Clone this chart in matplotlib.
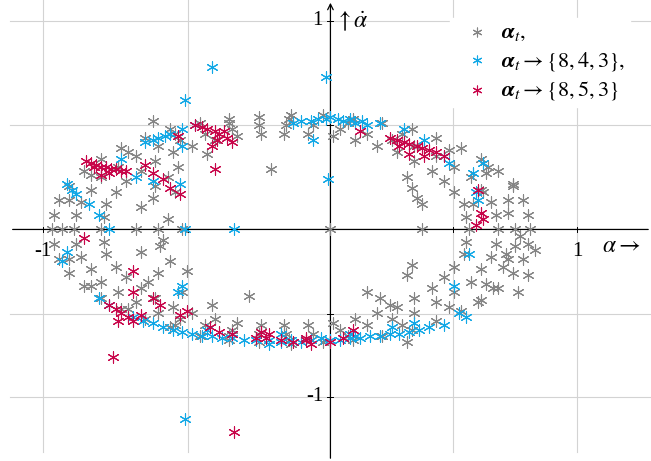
import matplotlib.pyplot as plt

plt.rcParams['font.family'] = ['Liberation Serif', 'DejaVu Serif']
plt.rcParams['mathtext.fontset'] = 'stix'

# gray: alpha_t (several orbits)
ring1_x = [0.81, 0.80, 0.78, 0.74, 0.68, 0.61, 0.53, 0.43, 0.33, 0.21, 0.09, -0.03, -0.16, -0.29, -0.41, -0.53,
           -0.65, -0.75, -0.85, -0.93, -1.00, -1.06, -1.10, -1.12, -1.13,
           -1.12, -1.10, -1.06, -1.00, -0.93, -0.85, -0.75, -0.65, -0.53, -0.41, -0.29, -0.16, -0.03, 0.09,
           0.21, 0.33, 0.43, 0.53, 0.61, 0.68, 0.74, 0.78, 0.80]
ring1_y = [0.00, 0.07, 0.14, 0.21, 0.28, 0.34, 0.39, 0.44, 0.48, 0.51, 0.53, 0.55, 0.55, 0.54, 0.53, 0.51,
           0.48, 0.44, 0.39, 0.34, 0.28, 0.21, 0.14, 0.07, 0.00,
           -0.07, -0.14, -0.21, -0.27, -0.33, -0.38, -0.43, -0.47, -0.51, -0.53, -0.54, -0.55, -0.54, -0.53,
           -0.51, -0.48, -0.44, -0.39, -0.34, -0.28, -0.21, -0.14, -0.07]
ring2_x = [0.75, 0.72, 0.63, 0.48, 0.29, 0.07, -0.17, -0.41, -0.63, -0.82, -0.97, -1.06, -1.09,
           -1.06, -0.97, -0.82, -0.63, -0.41, -0.17, 0.07, 0.29, 0.48, 0.63, 0.72]
ring2_y = [0.00, 0.14, 0.27, 0.38, 0.46, 0.51, 0.53, 0.51, 0.46, 0.37, 0.26, 0.14, 0.00,
           -0.14, -0.27, -0.38, -0.46, -0.51, -0.53, -0.51, -0.46, -0.37, -0.26, -0.14]
ring3_x = [0.68, 0.67, 0.65, 0.61, 0.57, 0.50, 0.43, 0.34, 0.25, 0.15, 0.04, -0.07, -0.18, -0.29, -0.40, -0.51,
           -0.61, -0.70, -0.79, -0.86, -0.93, -0.97, -1.01, -1.03, -1.04,
           -1.03, -1.01, -0.97, -0.93, -0.86, -0.79, -0.70, -0.61, -0.51, -0.40, -0.29, -0.18, -0.07, 0.04,
           0.15, 0.25, 0.34, 0.43, 0.50, 0.57, 0.61, 0.65, 0.67]
ring3_y = [0.00, 0.07, 0.13, 0.19, 0.25, 0.30, 0.35, 0.40, 0.43, 0.46, 0.48, 0.50, 0.50, 0.50, 0.48, 0.46,
           0.43, 0.40, 0.35, 0.30, 0.25, 0.19, 0.13, 0.07, 0.00,
           -0.07, -0.13, -0.19, -0.25, -0.30, -0.35, -0.40, -0.43, -0.46, -0.48, -0.50, -0.50, -0.50, -0.48,
           -0.46, -0.43, -0.40, -0.35, -0.30, -0.25, -0.19, -0.13, -0.07]
ring4_x = [0.56, 0.55, 0.54, 0.50, 0.46, 0.41, 0.34, 0.27, 0.19, 0.10, 0.01, -0.09, -0.19, -0.28, -0.38, -0.47,
           -0.56, -0.64, -0.71, -0.77, -0.83, -0.87, -0.91, -0.92, -0.93,
           -0.92, -0.91, -0.87, -0.83, -0.77, -0.71, -0.64, -0.56, -0.47, -0.38, -0.28, -0.19, -0.09, 0.01,
           0.10, 0.19, 0.27, 0.34, 0.41, 0.46, 0.50, 0.54, 0.55]
ring4_y = [0.00, 0.06, 0.12, 0.18, 0.23, 0.28, 0.33, 0.37, 0.40, 0.43, 0.45, 0.46, 0.46, 0.46, 0.45, 0.43,
           0.40, 0.37, 0.33, 0.28, 0.23, 0.18, 0.12, 0.06, 0.00,
           -0.06, -0.12, -0.18, -0.23, -0.28, -0.33, -0.37, -0.40, -0.43, -0.45, -0.46, -0.46, -0.46, -0.45,
           -0.43, -0.40, -0.37, -0.33, -0.28, -0.23, -0.18, -0.12, -0.06]
ring5_x = [-0.50, -0.62, -0.71, -0.77, -0.79, -0.77, -0.70, -0.60, -0.48, -0.66, -0.68, -0.72, -0.65,
           -0.74, -0.63, -0.69, -0.70, -0.66, -0.60, -0.58]
ring5_y = [0.36, 0.30, 0.21, 0.11, 0.00, -0.11, -0.21, -0.30, -0.36, 0.05, -0.05, 0.15, -0.15,
           -0.25, 0.18, -0.08, 0.00, 0.25, 0.00, -0.20]
extra_x = [0.72, 0.75, 0.62, 0.70, 0.66, 0.60, 0.74, 0.64, 0.71, 0.58, 0.77, 0.83, 0.80, 0.76,
           -0.24, -0.33, 0.0, 0.31, -0.72, 0.31, 0.33, 0.35, 0.37, 0.37, 0.33, 0.31, 0.15, 0.20, 0.24]
extra_y = [0.08, -0.08, 0.18, -0.18, -0.28, -0.35, 0.22, 0.30, -0.12, 0.12, -0.03, -0.10, -0.22, -0.30,
           0.29, -0.32, 0.00, -0.54, 0.52, 0.25, 0.20, 0.15, 0.12, 0.00, -0.17, -0.22, -0.30, -0.33, -0.36]
gray_x = ring1_x + ring2_x + ring3_x + ring4_x + ring5_x + extra_x
gray_y = ring1_y + ring2_y + ring3_y + ring4_y + ring5_y + extra_y

# blue: alpha_t -> {8,4,3}
blue_x = [-0.48, -0.02, -0.59, -0.01, -0.59, -0.39, -0.90, -0.59, -0.07,
          -0.75, -0.70, -0.65, -0.60, -0.55, -0.15, -0.12, -0.08, -0.05, -0.02, 0.00, 0.03, 0.05, 0.08, 0.10,
          0.13, 0.15, 0.20, 0.30, 0.38, -0.67, -0.72,
          -1.07, -1.05, -1.03, -0.98, -0.94, -1.09, -1.07, -0.94, -0.90, -0.79, -0.72, -0.61, -0.60, -0.62,
          0.46, 0.48, 0.58, 0.60, 0.56, 0.50, 0.62, 0.59,
          -0.80, -0.76, -0.72, -0.68, -0.64, -0.60, -0.56, -0.52, -0.48, -0.44, -0.40, -0.35, -0.30, -0.25,
          -0.20, -0.16, -0.12, -0.08, -0.04, 0.00, 0.04, 0.08, 0.12, 0.16, 0.20, 0.24, 0.28, 0.32, 0.36,
          0.40, 0.46, 0.52, 0.55, -0.50, -0.40, -0.20, 0.10, 0.25, 0.34,
          -0.85, -0.60, -0.25, 0.08]
blue_y = [0.78, 0.73, 0.62, 0.24, 0.00, 0.00, 0.00, -0.91, 0.43,
          0.42, 0.44, 0.46, 0.48, 0.50, 0.51, 0.52, 0.52, 0.53, 0.53, 0.54, 0.53, 0.52, 0.53, 0.51,
          0.52, 0.50, 0.51, 0.48, 0.43, 0.45, 0.43,
          0.22, 0.19, 0.17, 0.12, 0.07, -0.15, -0.11, -0.33, -0.36, 0.25, 0.23, 0.22, -0.27, -0.30,
          0.35, 0.32, 0.27, 0.14, -0.12, -0.27, 0.32, 0.18,
          -0.42, -0.44, -0.45, -0.47, -0.48, -0.49, -0.50, -0.51, -0.51, -0.52, -0.52, -0.53, -0.53, -0.53,
          -0.54, -0.53, -0.54, -0.53, -0.52, -0.53, -0.53, -0.52, -0.52, -0.51, -0.51, -0.50, -0.50, -0.49, -0.48,
          -0.47, -0.46, -0.40, -0.42, -0.48, -0.50, -0.50, -0.51, -0.47, -0.45,
          0.34, 0.40, -0.55, -0.50]

# red: alpha_t -> {8,5,3}
red_x = [-0.99, -0.97, -0.95, -0.93, -0.91, -0.89, -0.87, -0.85, -0.83, -0.93, -0.90, -0.96,
         -0.55, -0.52, -0.50, -0.47, -0.45, -0.42, -0.40, -0.48, -0.43, -0.46,
         0.24, 0.27, 0.30, 0.32, 0.35, 0.37, 0.40, 0.43, 0.46, 0.32, 0.28, 0.38,
         0.60, 0.61, 0.59, 0.62,
         -0.90, -0.87, -0.85, -0.82, -0.80, -0.77, -0.86,
         -0.49, -0.45, -0.40, -0.30, -0.26, -0.20, -0.15, -0.10, 0.00, 0.05, 0.09, -0.25, -0.08,
         -0.88, -0.39, -0.47, -0.75, -0.72, -0.68, -0.65, -0.61, -1.00, -0.80, -0.80, -0.72, -0.69,
         -0.61, -0.58, -0.28, -0.10, -0.62, 0.12]
red_y = [0.33, 0.32, 0.31, 0.30, 0.30, 0.29, 0.29, 0.28, 0.28, 0.26, 0.27, 0.30,
         0.50, 0.49, 0.48, 0.47, 0.46, 0.44, 0.42, 0.40, 0.47, 0.43,
         0.44, 0.43, 0.42, 0.41, 0.40, 0.39, 0.38, 0.37, 0.35, 0.36, 0.40, 0.35,
         0.19, 0.08, 0.02, 0.05,
         -0.36, -0.38, -0.40, -0.42, -0.44, -0.41, -0.44,
         -0.47, -0.49, -0.50, -0.52, -0.52, -0.53, -0.54, -0.53, -0.54, -0.52, -0.48, -0.50, -0.55,
         -0.61, -0.97, 0.29, 0.31, 0.27, 0.24, 0.20, 0.17, -0.04, -0.20, -0.30, -0.33, -0.36,
         -0.41, -0.39, -0.49, -0.52, 0.45, 0.47]

gray, blue, red = '#858585', '#12A8E6', '#C8064A'
ast = (6, 2, 0)

fig = plt.figure(figsize=(6.51, 4.61), dpi=100)
ax = fig.add_axes([0, 0, 1, 1])
ax.set_xlim(-1.34, 1.30)
ax.set_ylim(-1.11, 1.10)
ax.axis('off')

gx = [-1.166, -0.579, 0.497, 1.0]
gy = [1.0, 0.502, -0.406, -0.802]
for v in gx:
    ax.axvline(v, ymin=0.02, color='#d3d3d3', lw=0.8, zorder=0)
for v in gy:
    ax.axhline(v, xmin=0.015, color='#d3d3d3', lw=0.8, zorder=0)

ax.annotate('', xy=(1.30, 0), xytext=(-1.30, 0),
            arrowprops=dict(arrowstyle='-', color='black', lw=0.9), zorder=1)
ax.annotate('', xy=(0, 1.10), xytext=(0, -1.11),
            arrowprops=dict(arrowstyle='->', color='black', lw=0.9), zorder=1)
for v in gx:
    ax.plot([v, v], [-0.012, 0.012], color='black', lw=0.7)
for v in gy:
    ax.plot([-0.012, 0.012], [v, v], color='black', lw=0.7)

ax.scatter(gray_x, gray_y, marker=ast, s=65, color=gray, linewidths=0.8, zorder=2, label=r'$\boldsymbol{\alpha}_t,$')
ax.scatter(blue_x, blue_y, marker=ast, s=65, color=blue, linewidths=0.8, zorder=3, label=r'$\boldsymbol{\alpha}_t\rightarrow\{8,4,3\},$')
ax.scatter(red_x, red_y, marker=ast, s=65, color=red, linewidths=0.8, zorder=4, label=r'$\boldsymbol{\alpha}_t\rightarrow\{8,5,3\}$')

fs = 15
ax.text(-1.166, -0.06, '-1', ha='center', va='top', fontsize=fs)
ax.text(1.0, -0.06, '1', ha='center', va='top', fontsize=fs)
ax.text(-0.03, 1.0, '1', ha='right', va='center', fontsize=fs)
ax.text(-0.03, -0.802, '-1', ha='right', va='center', fontsize=fs)
ax.text(1.10, -0.08, r'$\alpha\rightarrow$', ha='left', va='center', fontsize=17)
ax.text(0.02, 1.0, r'$\uparrow\dot{\alpha}$', ha='left', va='center', fontsize=17)

ax.legend(loc='upper right', bbox_to_anchor=(0.985, 0.985), frameon=True, fancybox=False,
          edgecolor='white', framealpha=1, fontsize=16, handletextpad=0.1, borderpad=0.2,
          labelspacing=0.3, markerscale=0.8)

fig.savefig('out.png', dpi=100)
